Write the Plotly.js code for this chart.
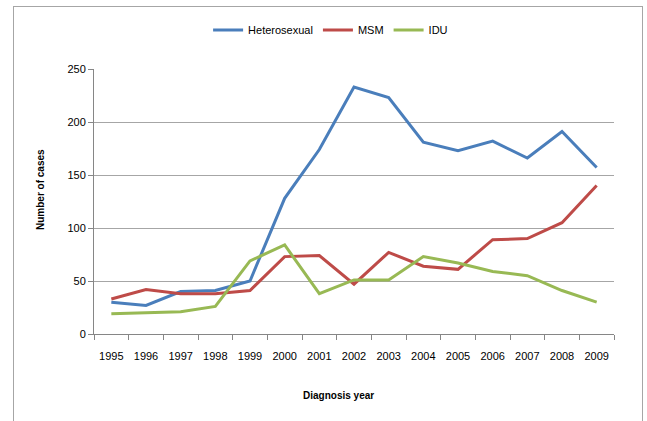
<!DOCTYPE html>
<html>
<head>
<meta charset="utf-8">
<script src="https://cdn.plot.ly/plotly-3.0.1.min.js"></script>
<style>
  html, body { margin: 0; padding: 0; background: #fff; }
  #wrap { position: relative; width: 647px; height: 421px; overflow: hidden; }
  #frame { position: absolute; left: 13px; top: 6px; width: 630px; height: 430px; border: 1px solid #a6a6a6; box-sizing: border-box; pointer-events: none; }
  #chart { position: absolute; left: 0; top: 0; width: 647px; height: 421px; }
</style>
</head>
<body>
<div id="wrap">
  <div id="chart"></div>
  <div id="frame"></div>
</div>
<script>
const years = ["1995","1996","1997","1998","1999","2000","2001","2002","2003","2004","2005","2006","2007","2008","2009"];
const heterosexual = [30, 27, 40, 41, 50, 128, 174, 233, 223, 181, 173, 182, 166, 191, 157];
const msm = [33, 42, 38, 38, 41, 73, 74, 47, 77, 64, 61, 89, 90, 105, 140];
const idu = [19, 20, 21, 26, 69, 84, 38, 51, 51, 73, 67, 59, 55, 41, 30];
const seriesNames = ["Heterosexual", "MSM", "IDU"];
const seriesColors = ["#4a7ebb", "#be4b48", "#98b954"];

const FONT = "'Liberation Sans', Arial, sans-serif";

const traces = [heterosexual, msm, idu].map((vals, i) => ({
  type: "scatter",
  mode: "lines",
  name: seriesNames[i],
  x: years,
  y: vals,
  line: { color: seriesColors[i], width: 3 }
}));

const layout = {
  width: 647,
  height: 421,
  margin: { l: 94, r: 33, t: 69, b: 87 },
  paper_bgcolor: "#fff",
  plot_bgcolor: "#fff",
  font: { family: FONT, size: 11, color: "#000" },
  showlegend: true,
  legend: {
    orientation: "h",
    x: 0.455, xanchor: "center",
    y: 1.147, yanchor: "middle",
    font: { family: FONT, size: 11, color: "#000" },
    tracegroupgap: 0
  },
  xaxis: {
    type: "category",
    range: [-0.5, years.length - 0.5],
    tickson: "boundaries",
    ticks: "outside",
    ticklen: 5,
    tickcolor: "#868686",
    ticklabelstandoff: 12,
    showline: true,
    linecolor: "#868686",
    linewidth: 1,
    showgrid: false,
    zeroline: false,
    tickfont: { family: FONT, size: 11, color: "#000" },
    fixedrange: true
  },
  yaxis: {
    range: [0, 250],
    dtick: 50,
    ticks: "outside",
    ticklen: 5,
    tickcolor: "#868686",
    showline: true,
    linecolor: "#868686",
    linewidth: 1,
    showgrid: true,
    gridcolor: "#a6a6a6",
    gridwidth: 1,
    zeroline: false,
    tickfont: { family: FONT, size: 11, color: "#000" },
    fixedrange: true
  },
  annotations: [
    {
      text: "<b>Number of cases</b>",
      xref: "paper", yref: "paper",
      x: -0.104, y: 0.547, xanchor: "center", yanchor: "middle",
      textangle: -90, showarrow: false,
      font: { family: FONT, size: 10, color: "#000" }
    },
    {
      text: "<b>Diagnosis year</b>",
      xref: "paper", yref: "paper",
      x: 0.47, y: -0.233, xanchor: "center", yanchor: "middle",
      showarrow: false,
      font: { family: FONT, size: 10, color: "#000" }
    }
  ]
};

Plotly.newPlot("chart", traces, layout, { staticPlot: true, displayModeBar: false });
</script>
</body>
</html>
